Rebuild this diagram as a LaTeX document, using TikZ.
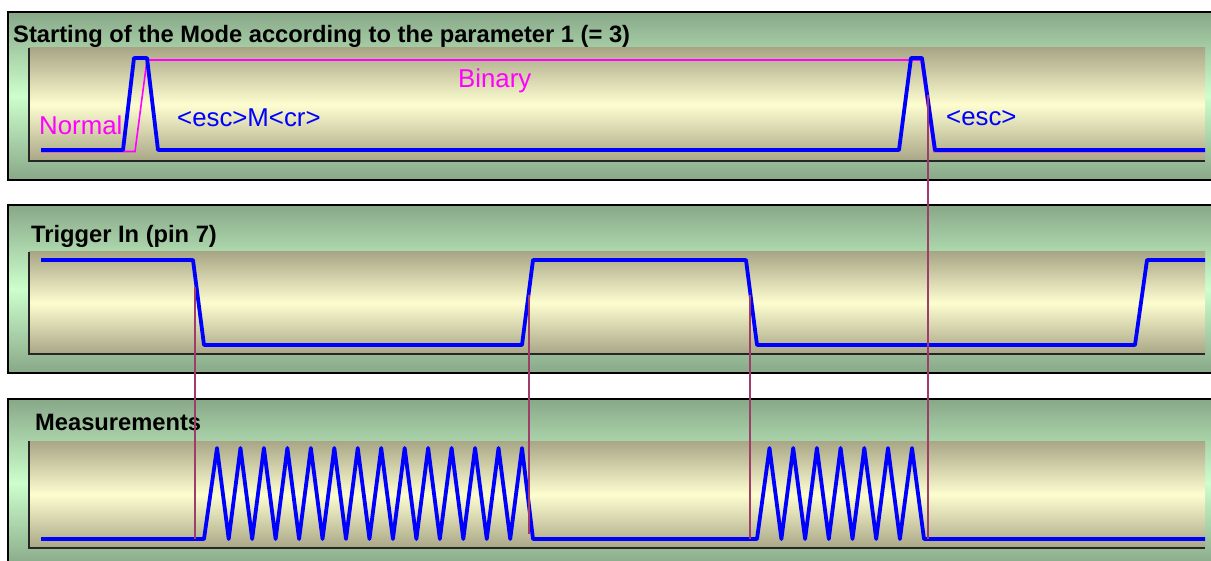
\documentclass[tikz,border=0pt]{standalone}
\usepackage{fontspec}
\setmainfont{Liberation Sans}
\definecolor{sigblue}{RGB}{0,0,255}
\definecolor{sigmag}{RGB}{255,0,255}
\definecolor{cursorcol}{RGB}{160,60,105}
\definecolor{gdark}{RGB}{136,168,136}
\definecolor{glight}{RGB}{204,255,204}
\definecolor{tanc}{RGB}{168,166,134}
\definecolor{cream}{RGB}{253,253,208}
\tikzset{
  panel/.style={draw=black, line width=1.5pt, top color=gdark, bottom color=gdark, middle color=glight},
  plotarea/.style={top color=tanc, bottom color=tanc, middle color=cream},
  axisline/.style={draw=black!85, line width=1.2pt},
  sig/.style={draw=sigblue, line width=3.8pt, line join=round},
  modesig/.style={draw=sigmag, line width=1.6pt},
  cursor/.style={draw=cursorcol, line width=1.5pt},
  ttl/.style={font=\bfseries\fontsize{23.7}{26}\selectfont, anchor=base west, inner sep=0pt},
  lbl/.style={font=\fontsize{25.8}{28}\selectfont, anchor=base west, inner sep=0pt},
}
\begin{document}
\begin{tikzpicture}[x=1pt,y=-1pt]
\useasboundingbox (0,0) rectangle (1211,561);
\clip (0,0) rectangle (1211,561);
% panel 1
\path[panel] (8,12) rectangle (1230,180);
\path[plotarea] (29,48) rectangle (1205,161);
\draw[axisline] (29,48) -- (29,161) -- (1205,161);
% panel 2
\path[panel] (8,205) rectangle (1230,373);
\path[plotarea] (29,252) rectangle (1205,354);
\draw[axisline] (29,252) -- (29,354) -- (1205,354);
% panel 3
\path[panel] (8,399) rectangle (1230,567);
\path[plotarea] (29,441) rectangle (1205,548);
\draw[axisline] (29,441) -- (29,548) -- (1205,548);

% mode signal (magenta)
\draw[modesig] (41,151.5) -- (135,151.5) -- (147,60) -- (921,60) -- (934,151.5) -- (1205,151.5);
% command signal (blue)
\draw[sig] (41,150) -- (123,150) -- (134,58) -- (147,58) -- (158,150) -- (899,150) -- (911,58) -- (922,58) -- (935,150) -- (1205,150);
% trigger
\draw[sig] (41,260) -- (193,260) -- (204,345) -- (522,345) -- (533,260) -- (746,260) -- (757,345) -- (1135,345) -- (1147,260) -- (1205,260);
% measurements
\draw[sig] (41,539) -- (204,539)
  \foreach \k in {0,...,12}{ -- ({217+23.46*\k},448) -- ({228.7+23.46*\k},539) }
  -- (522,448) -- (533,539) -- (757,539)
  \foreach \k in {0,...,5}{ -- ({769.5+23.7*\k},448) -- ({781.4+23.7*\k},539) }
  -- (912,448) -- (924,539) -- (1205,539);

% labels
\node[lbl, text=sigmag] (lnormal) at (39,135) {Normal};
\node[lbl, text=sigblue] (lesccr) at (177,127) {<esc>M<cr>};
\node[lbl, text=sigmag] (lbinary) at (458,88) {Binary};
\node[lbl, text=sigblue] (lesc) at (946,126) {<esc>};

% titles
\node[ttl] (t1) at (13,43) {Starting of the Mode according to the parameter 1 (= 3)};
\node[ttl] (t2) at (31,243) {Trigger In (pin 7)};
\node[ttl] (t3) at (35,431) {Measurements};

% cursor lines
\coordinate (c1a) at (195,287); \coordinate (c1b) at (195,539);
\coordinate (c2a) at (529,295); \coordinate (c2b) at (529,534);
\coordinate (c3a) at (750,295); \coordinate (c3b) at (750,539);
\coordinate (c4a) at (928,95);  \coordinate (c4b) at (928,539);
\draw[cursor] (c1a) -- (c1b);
\draw[cursor] (c2a) -- (c2b);
\draw[cursor] (c3a) -- (c3b);
\draw[cursor] (c4a) -- (c4b);
\end{tikzpicture}
\end{document}
